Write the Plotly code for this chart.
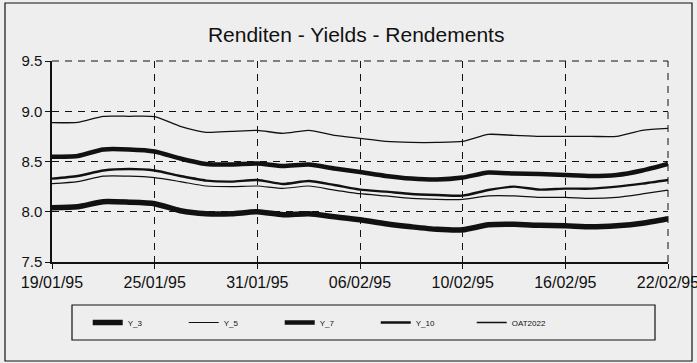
import plotly.graph_objects as go

# Business days from 19/01/95 to 22/02/95
dates = ["19/01/95", "20/01/95", "23/01/95", "24/01/95", "25/01/95",
         "26/01/95", "27/01/95", "30/01/95", "31/01/95", "01/02/95",
         "02/02/95", "03/02/95", "06/02/95", "07/02/95", "08/02/95",
         "09/02/95", "10/02/95", "13/02/95", "14/02/95", "15/02/95",
         "16/02/95", "17/02/95", "20/02/95", "21/02/95", "22/02/95"]
tick_labels = ["19/01/95", "25/01/95", "31/01/95", "06/02/95",
               "10/02/95", "16/02/95", "22/02/95"]

y_3 = [8.04, 8.05, 8.10, 8.095, 8.08, 8.01, 7.98, 7.98, 8.00, 7.97,
       7.98, 7.95, 7.92, 7.88, 7.85, 7.825, 7.82, 7.87, 7.875, 7.865,
       7.86, 7.85, 7.86, 7.885, 7.93]
y_5 = [8.28, 8.30, 8.355, 8.355, 8.34, 8.30, 8.256, 8.25, 8.256, 8.233,
       8.256, 8.216, 8.18, 8.157, 8.133, 8.123, 8.123, 8.157, 8.157, 8.143,
       8.143, 8.133, 8.143, 8.177, 8.216]
y_7 = [8.548, 8.555, 8.62, 8.62, 8.60, 8.53, 8.475, 8.47, 8.48, 8.455,
       8.47, 8.43, 8.395, 8.356, 8.33, 8.32, 8.34, 8.39, 8.38, 8.375,
       8.365, 8.355, 8.365, 8.41, 8.475]
y_10 = [8.33, 8.356, 8.41, 8.425, 8.41, 8.356, 8.31, 8.30, 8.316, 8.276,
        8.306, 8.266, 8.22, 8.20, 8.177, 8.167, 8.16, 8.216, 8.25, 8.22,
        8.23, 8.23, 8.25, 8.28, 8.316]
oat2022 = [8.886, 8.89, 8.95, 8.95, 8.946, 8.85, 8.79, 8.80, 8.81, 8.78,
           8.81, 8.76, 8.73, 8.70, 8.69, 8.69, 8.70, 8.77, 8.76, 8.75,
           8.75, 8.75, 8.75, 8.81, 8.83]

series = [
    ("Y_3", y_3, 5.5),
    ("Y_5", y_5, 1.2),
    ("Y_7", y_7, 4.5),
    ("Y_10", y_10, 2.4),
    ("OAT2022", oat2022, 1.3),
]

fig = go.Figure()
for name, vals, w in series:
    fig.add_trace(go.Scatter(x=dates, y=vals, name=name, mode="lines",
                             line=dict(color="#111111", width=w,
                                       shape="spline", smoothing=0.6)))

bg = "#eeeeee"
ink = "#111111"
font_fam = "Liberation Sans, Arial, sans-serif"
dash = "7px,6px"

fig.update_layout(
    width=697, height=363,
    margin=dict(l=52, r=29, t=61, b=101),
    paper_bgcolor=bg, plot_bgcolor=bg,
    font=dict(family=font_fam, color=ink),
    title=dict(text="Renditen - Yields - Rendements", x=0.511, xanchor="center",
               y=1 - 35 / 363, yanchor="middle",
               font=dict(size=21, family=font_fam, color=ink)),
    showlegend=True,
    legend=dict(orientation="h", x=0.058, xanchor="left",
                y=-0.301, yanchor="middle",
                bgcolor="rgba(0,0,0,0)", borderwidth=0,
                entrywidth=51, entrywidthmode="pixels",
                font=dict(size=8, family=font_fam)),
)

fig.update_xaxes(
    type="category", range=[0, 24], automargin=False,
    tickmode="array", tickvals=tick_labels, ticktext=tick_labels,
    showline=True, linecolor=ink, linewidth=1.5,
    ticks="outside", ticklen=5, tickcolor=ink,
    showgrid=True, gridcolor=ink, gridwidth=1, griddash=dash,
    tickfont=dict(size=16), zeroline=False,
)
fig.update_yaxes(
    range=[7.5, 9.5], tickvals=[7.5, 8.0, 8.5, 9.0, 9.5], automargin=False,
    tickformat=".1f",
    showline=True, linecolor=ink, linewidth=1.5,
    ticks="outside", ticklen=5, tickcolor=ink,
    showgrid=True, gridcolor=ink, gridwidth=1, griddash=dash,
    tickfont=dict(size=15), zeroline=False,
)

# Dashed top and right edges of the plotting area
fig.add_shape(type="line", xref="paper", yref="paper", x0=0, x1=1, y0=1, y1=1,
              line=dict(color=ink, width=1, dash=dash))
fig.add_shape(type="line", xref="paper", yref="paper", x0=1, x1=1, y0=0, y1=1,
              line=dict(color=ink, width=1, dash=dash))

# Legend frame and outer chart frame
fig.add_shape(type="rect", xref="paper", yref="paper",
              x0=(72 - 52) / 616, x1=(655 - 52) / 616,
              y0=(262 - 340) / 201, y1=(262 - 305) / 201,
              line=dict(color=ink, width=1.2), fillcolor="rgba(0,0,0,0)")
fig.add_shape(type="rect", xref="paper", yref="paper",
              x0=(5 - 52) / 616, x1=(692 - 52) / 616,
              y0=(262 - 361) / 201, y1=(262 - 3) / 201,
              line=dict(color=ink, width=1.2), fillcolor="rgba(0,0,0,0)",
              layer="below")

fig.write_html("out.html")
